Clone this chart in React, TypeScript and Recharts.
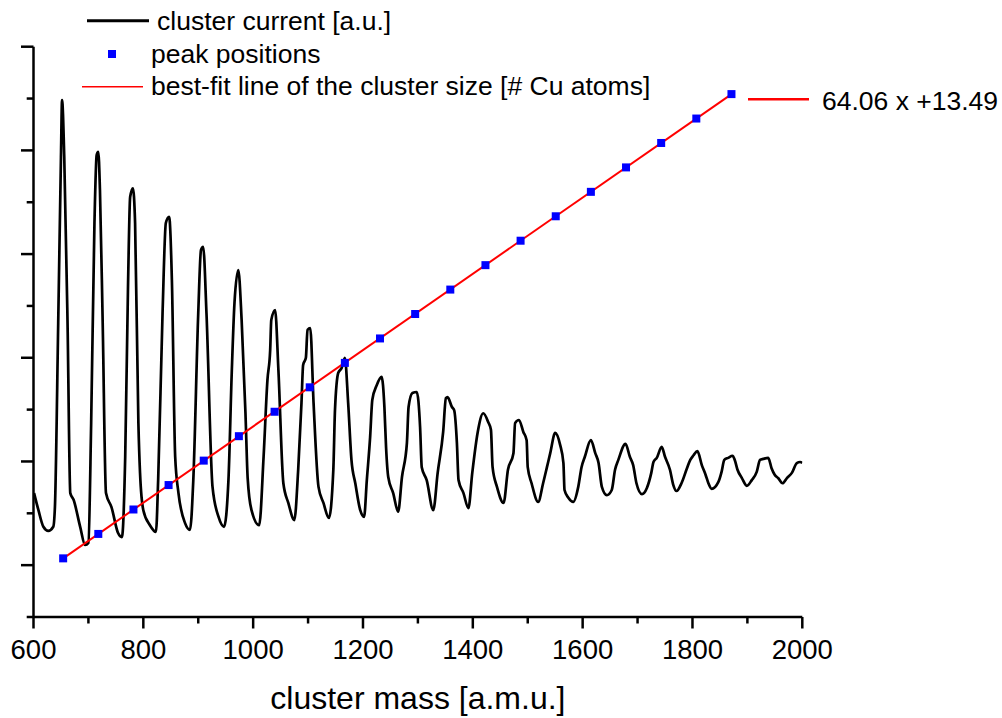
import React from 'react';
import { ComposedChart, Line, Scatter, XAxis, YAxis } from 'recharts';

const FONT = '"Liberation Sans", Arial, Helvetica, sans-serif';

// measured cluster current: [mass (a.m.u.), current (a.u.)]
const currentTrace: [number, number][] = [
  [601, 23.9], [609, 20.6], [618, 17.4], [627, 16.6], [636, 17.4], [639, 21.2], [645, 56.7], [650, 88.7],
  [652, 99.7], [656, 88.7], [662, 56.7], [667, 23.9], [673, 22.6], [685, 17.4], [694, 13.9], [700, 14.3],
  [705, 37.4], [711, 76.0], [715, 89.1], [718, 89.7], [721, 82.4], [726, 56.7], [732, 23.9], [742, 21.2],
  [754, 16.2], [761, 15.4], [767, 30.9], [772, 63.1], [776, 81.0], [781, 82.7], [785, 76.0], [791, 37.4],
  [794, 27.8], [800, 20.6], [812, 17.7], [823, 16.4], [827, 26.4], [835, 58.6], [841, 76.0], [847, 77.2],
  [852, 65.0], [858, 30.9], [864, 23.9], [876, 18.1], [885, 16.8], [891, 26.4], [900, 58.6], [905, 70.8],
  [909, 71.4], [915, 58.6], [926, 25.1], [937, 19.3], [947, 17.4], [955, 26.4], [961, 47.1], [966, 60.6],
  [973, 66.9], [979, 57.3], [986, 39.3], [990, 26.8], [997, 20.6], [1011, 17.7], [1019, 30.9], [1026, 45.7],
  [1031, 51.5], [1033, 57.3], [1040, 59.2], [1046, 47.6], [1055, 25.8], [1064, 22.0], [1075, 18.7], [1082, 28.4],
  [1088, 41.3], [1091, 48.6], [1096, 50.0], [1099, 55.4], [1104, 55.7], [1110, 41.3], [1119, 25.1], [1128, 22.0],
  [1138, 19.1], [1146, 28.4], [1149, 39.9], [1155, 47.1], [1161, 48.0], [1167, 50.0], [1173, 41.3], [1179, 30.3],
  [1186, 25.8], [1195, 20.6], [1202, 19.3], [1207, 26.4], [1213, 34.7], [1217, 41.9], [1225, 44.7], [1234, 46.3],
  [1239, 40.5], [1242, 32.8], [1246, 27.0], [1255, 23.9], [1264, 20.3], [1271, 27.0], [1280, 33.6], [1283, 40.5],
  [1290, 43.2], [1298, 43.4], [1304, 36.6], [1307, 28.9], [1316, 26.4], [1328, 20.6], [1336, 27.8], [1346, 35.7],
  [1351, 42.2], [1354, 42.4], [1362, 40.5], [1366, 39.9], [1371, 33.6], [1374, 26.4], [1383, 23.9], [1392, 21.0],
  [1399, 27.8], [1409, 35.7], [1419, 39.3], [1428, 37.6], [1433, 36.1], [1436, 28.9], [1444, 25.1], [1456, 22.0],
  [1464, 28.4], [1474, 31.6], [1477, 37.4], [1484, 38.0], [1492, 35.7], [1498, 34.1], [1500, 28.9], [1507, 25.8],
  [1519, 22.2], [1528, 25.8], [1535, 28.9], [1541, 31.6], [1550, 35.5], [1559, 33.2], [1565, 29.7], [1567, 24.5],
  [1574, 23.0], [1583, 22.2], [1592, 25.1], [1598, 28.9], [1604, 30.9], [1615, 34.1], [1623, 31.6], [1629, 29.7],
  [1635, 25.1], [1644, 23.5], [1653, 24.5], [1659, 28.4], [1665, 30.3], [1678, 33.4], [1686, 30.9], [1692, 29.3],
  [1698, 25.8], [1708, 23.7], [1717, 24.9], [1725, 27.8], [1729, 29.9], [1735, 30.7], [1744, 32.8], [1750, 30.9],
  [1759, 28.4], [1765, 25.5], [1771, 24.3], [1780, 25.8], [1790, 28.7], [1796, 30.3], [1802, 31.2], [1809, 32.0],
  [1817, 29.3], [1824, 27.4], [1829, 25.8], [1835, 24.7], [1847, 26.0], [1853, 28.0], [1858, 30.3], [1865, 30.7],
  [1873, 31.1], [1877, 30.3], [1882, 28.4], [1890, 26.8], [1899, 25.3], [1908, 26.4], [1917, 28.0], [1923, 30.3],
  [1929, 30.5], [1938, 30.7], [1944, 28.7], [1950, 27.4], [1956, 26.8], [1964, 25.8], [1972, 26.8], [1981, 27.8],
  [1990, 29.7], [1996, 29.9], [2000, 29.7],
];

// peak positions and the number of Cu atoms they belong to
const peakMass = [654, 718, 782, 846, 910, 974, 1039, 1103, 1167, 1231, 1295, 1359, 1423, 1487, 1551, 1615, 1679, 1743, 1807, 1871];
const peakSize = [10, 11, 12, 13, 14, 15, 16, 17, 18, 19, 20, 21, 22, 23, 24, 25, 26, 27, 28, 29];

// linear fit: mass = slope * size + intercept
const FIT_SLOPE = 64.06;
const FIT_INTERCEPT = 13.49;

const massTicks = [600, 700, 800, 900, 1000, 1100, 1200, 1300, 1400, 1500, 1600, 1700, 1800, 1900, 2000];
const currentTicks = [0, 10, 20, 30, 40, 50, 60, 70, 80, 90, 100, 110];

const W = 1002;
const H = 718;
const PLOT_LEFT = 33.5;
const PLOT_TOP = 46.7;
const PLOT_RIGHT = 802.3;
const PLOT_BOTTOM = 617;

const curveData = currentTrace.map(([mass, current]) => ({ mass, current }));
const peakData = peakMass.map((mass, i) => ({ mass, size: peakSize[i] }));
const fitData = [peakSize[0], peakSize[peakSize.length - 1]].map((n) => ({
  mass: FIT_SLOPE * n + FIT_INTERCEPT,
  size: n,
}));

const XTick = (props: any) => {
  const { x, payload } = props;
  const major = payload.value % 200 === 0;
  return (
    <g>
      <line x1={x} x2={x} y1={PLOT_BOTTOM} y2={PLOT_BOTTOM + (major ? 11.5 : 6.5)} stroke="#000" strokeWidth={2.5} />
      {major && (
        <text x={x} y={659} textAnchor="middle" fontSize={27.5} fontFamily={FONT} fill="#000">
          {payload.value}
        </text>
      )}
    </g>
  );
};

const YTick = (props: any) => {
  const { y, payload } = props;
  const major = payload.value % 20 === 10;
  return (
    <line x1={PLOT_LEFT - (major ? 12.5 : 6.8)} x2={PLOT_LEFT} y1={y} y2={y} stroke="#000" strokeWidth={2.5} />
  );
};

const PeakSquare = (props: any) => (
  <rect x={props.cx - 4} y={props.cy - 4} width={8} height={8} fill="#0000ff" />
);

const LegendOverlay = () => (
  <svg
    width={W}
    height={130}
    style={{ position: 'absolute', left: 0, top: 0, pointerEvents: 'none' }}
    fontFamily={FONT}
    fontSize={26.5}
  >
    <line x1={87} x2={149} y1={20.7} y2={20.7} stroke="#000" strokeWidth={3} />
    <text x={157} y={30}>cluster current [a.u.]</text>
    <rect x={108} y={50} width={8} height={8} fill="#0000ff" />
    <text x={151} y={62.7}>peak positions</text>
    <line x1={82} x2={143} y1={86.7} y2={86.7} stroke="#ff0000" strokeWidth={1.4} />
    <text x={151} y={95}>best-fit line of the cluster size [# Cu atoms]</text>
    <line x1={748} x2={809} y1={99.3} y2={99.3} stroke="#ff0000" strokeWidth={2.5} />
    <text x={822} y={110}>
      {FIT_SLOPE.toFixed(2)} x +{FIT_INTERCEPT.toFixed(2)}
    </text>
  </svg>
);

export default function App() {
  return (
    <div style={{ position: 'absolute', left: 0, top: 0, width: W, height: H, background: '#fff' }}>
      <ComposedChart
        width={W}
        height={H}
        margin={{ top: PLOT_TOP, right: W - PLOT_RIGHT, bottom: 0, left: 0 }}
      >
        <XAxis
          dataKey="mass"
          type="number"
          domain={[600, 2000]}
          ticks={massTicks}
          interval={0}
          allowDataOverflow
          height={H - PLOT_BOTTOM}
          axisLine={{ stroke: '#000', strokeWidth: 2.5 }}
          tickLine={false}
          tick={XTick}
          label={{
            value: 'cluster mass [a.m.u.]',
            position: 'insideBottom',
            offset: 9,
            fontSize: 32,
            fontFamily: FONT,
            fill: '#000',
          }}
        />
        <YAxis
          yAxisId="current"
          type="number"
          domain={[0, 110]}
          ticks={currentTicks}
          interval={0}
          allowDataOverflow
          width={PLOT_LEFT}
          axisLine={{ stroke: '#000', strokeWidth: 2.5 }}
          tickLine={false}
          tick={YTick}
        />
        <YAxis
          yAxisId="size"
          orientation="right"
          type="number"
          domain={[7.6, 30.94]}
          allowDataOverflow
          hide
        />
        <Line
          yAxisId="current"
          data={curveData}
          dataKey="current"
          type="monotone"
          stroke="#000"
          strokeWidth={2.7}
          dot={false}
          isAnimationActive={false}
        />
        <Line
          yAxisId="size"
          data={fitData}
          dataKey="size"
          type="linear"
          stroke="#ff0000"
          strokeWidth={2}
          dot={false}
          isAnimationActive={false}
        />
        <Scatter
          yAxisId="size"
          data={peakData}
          dataKey="size"
          fill="#0000ff"
          shape={PeakSquare}
          isAnimationActive={false}
        />
      </ComposedChart>
      <LegendOverlay />
    </div>
  );
}
